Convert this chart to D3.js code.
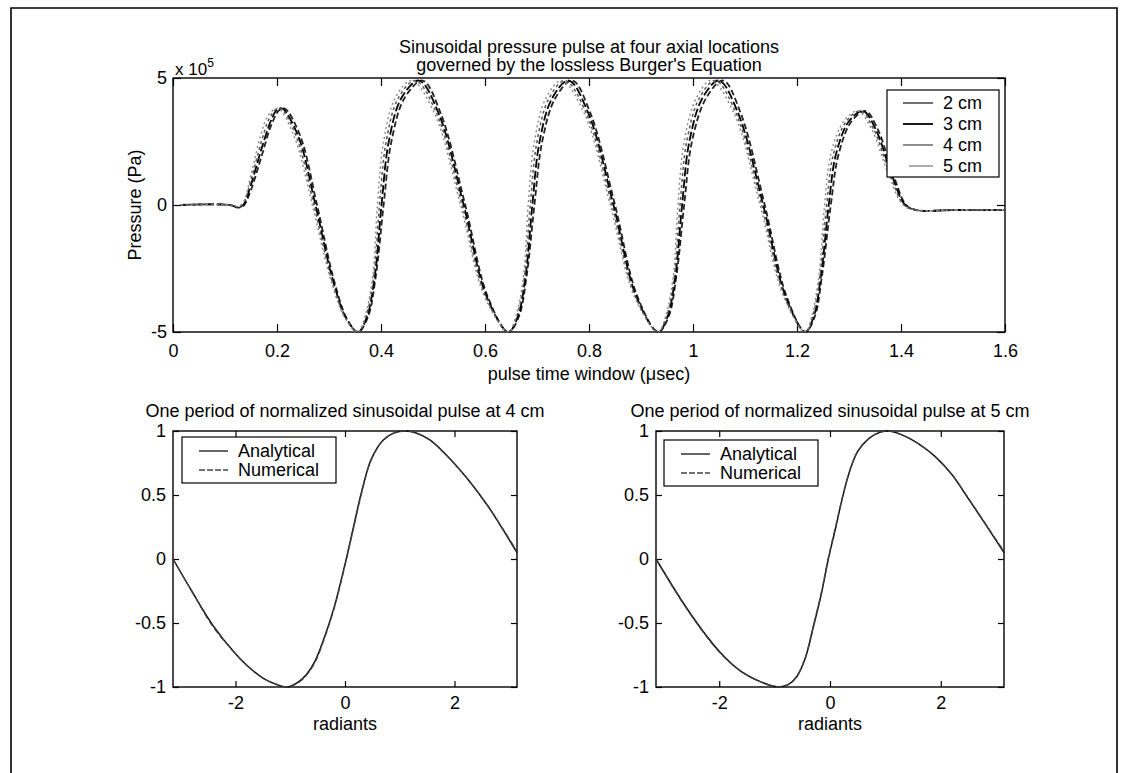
<!DOCTYPE html>
<html>
<head>
<meta charset="utf-8">
<script src="https://cdn.jsdelivr.net/npm/d3@7"></script>
<style>
html,body{margin:0;padding:0;background:#fff;}
svg{display:block;}
text{font-family:"Liberation Sans",Arial,Helvetica,sans-serif;fill:#000;}
</style>
</head>
<body>
<svg id="chart" width="1123" height="773"></svg>
<script>
// ---------------- DATA ----------------
const seriesNames = ["2 cm","3 cm","4 cm","5 cm"];
const xTicksTop = [0,0.2,0.4,0.6,0.8,1,1.2,1.4,1.6];
const yTicksTop = [-5,0,5];
const xTicksBottom = [-2,0,2];
const yTicksBottom = [-1,-0.5,0,0.5,1];
const yTickLabelsBottom = ["-1","-0.5","0","0.5","1"];
const yTickLabelsTop = ["-5","0","5"];

// pressure (x 10^5 Pa) vs time (usec)
const pulse2cm = [[0.015,0],[0.11,0],[0.125,-0.1],[0.135,-0.05],[0.15,0.6],[0.17,1.9],[0.19,3.2],[0.205,3.75],[0.215,3.8],
[0.245,2.7],[0.277,0],[0.31,-3.0],[0.335,-4.5],[0.356,-5.0],
[0.375,-4.4],[0.39,-2.8],[0.405,0],[0.42,2.5],[0.445,4.2],[0.48,4.9],
[0.515,3.6],[0.562,0],[0.605,-3.6],[0.645,-5.0],
[0.665,-4.4],[0.68,-2.8],[0.695,0],[0.71,2.5],[0.735,4.2],[0.768,4.9],
[0.803,3.6],[0.85,0],[0.893,-3.6],[0.933,-5.0],
[0.953,-4.4],[0.968,-2.8],[0.983,0],[0.998,2.5],[1.025,4.2],[1.058,4.9],
[1.092,3.6],[1.138,0],[1.18,-3.6],[1.216,-5.0],
[1.234,-4.4],[1.248,-2.8],[1.265,0],[1.28,2.0],[1.305,3.3],[1.332,3.7],
[1.355,3.0],[1.385,1.2],[1.41,0.0],[1.43,-0.2],[1.5,-0.2],[1.6,-0.2]];
const pulse3cm = [[0.015,0],[0.11,0],[0.125,-0.1],[0.135,0],[0.15,0.8],[0.17,2.2],[0.19,3.4],[0.2,3.75],[0.21,3.8],
[0.241,2.7],[0.274,0],[0.308,-3.0],[0.334,-4.5],[0.356,-5.0],
[0.373,-4.4],[0.388,-2.8],[0.401,0],[0.415,2.5],[0.439,4.2],[0.473,4.9],
[0.511,3.6],[0.559,0],[0.603,-3.6],[0.645,-5.0],
[0.663,-4.4],[0.678,-2.8],[0.691,0],[0.705,2.5],[0.729,4.2],[0.761,4.9],
[0.799,3.6],[0.847,0],[0.891,-3.6],[0.933,-5.0],
[0.951,-4.4],[0.966,-2.8],[0.979,0],[0.993,2.5],[1.018,4.2],[1.05,4.9],
[1.087,3.6],[1.135,0],[1.178,-3.6],[1.216,-5.0],
[1.232,-4.4],[1.246,-2.8],[1.261,0],[1.275,2.0],[1.3,3.3],[1.327,3.7],
[1.351,3.0],[1.382,1.2],[1.408,0.0],[1.43,-0.2],[1.5,-0.2],[1.6,-0.2]];
const pulse4cm = [[0.015,0],[0.11,0],[0.125,-0.08],[0.135,0.05],[0.15,1.0],[0.17,2.5],[0.185,3.4],[0.197,3.75],[0.207,3.8],
[0.237,2.7],[0.271,0],[0.306,-3.0],[0.333,-4.5],[0.356,-5.0],
[0.371,-4.4],[0.386,-2.8],[0.397,0],[0.41,2.5],[0.433,4.2],[0.466,4.9],
[0.507,3.6],[0.556,0],[0.601,-3.6],[0.645,-5.0],
[0.661,-4.4],[0.676,-2.8],[0.687,0],[0.7,2.5],[0.723,4.2],[0.754,4.9],
[0.795,3.6],[0.844,0],[0.889,-3.6],[0.933,-5.0],
[0.949,-4.4],[0.964,-2.8],[0.975,0],[0.988,2.5],[1.012,4.2],[1.043,4.9],
[1.083,3.6],[1.132,0],[1.176,-3.6],[1.216,-5.0],
[1.23,-4.4],[1.244,-2.8],[1.257,0],[1.27,2.0],[1.295,3.3],[1.322,3.7],
[1.347,3.0],[1.379,1.2],[1.406,0.0],[1.43,-0.2],[1.5,-0.2],[1.6,-0.2]];
const pulse5cm = [[0.015,0],[0.11,0],[0.125,-0.05],[0.135,0.1],[0.15,1.2],[0.168,2.7],[0.182,3.5],[0.194,3.75],[0.203,3.8],
[0.233,2.7],[0.268,0],[0.304,-3.0],[0.332,-4.5],[0.356,-5.0],
[0.369,-4.4],[0.384,-2.8],[0.393,0],[0.405,2.5],[0.427,4.2],[0.459,4.9],
[0.503,3.6],[0.553,0],[0.599,-3.6],[0.645,-5.0],
[0.659,-4.4],[0.674,-2.8],[0.683,0],[0.695,2.5],[0.717,4.2],[0.747,4.9],
[0.791,3.6],[0.841,0],[0.887,-3.6],[0.933,-5.0],
[0.947,-4.4],[0.962,-2.8],[0.971,0],[0.983,2.5],[1.006,4.2],[1.035,4.9],
[1.079,3.6],[1.129,0],[1.174,-3.6],[1.216,-5.0],
[1.228,-4.4],[1.242,-2.8],[1.253,0],[1.265,2.0],[1.29,3.3],[1.317,3.7],
[1.343,3.0],[1.376,1.2],[1.404,0.0],[1.43,-0.2],[1.5,-0.2],[1.6,-0.2]];

// one period, normalized (radians, normalized pressure)
const analytic4 = [[-3.1416,0],[-2.8,-0.25],[-2.41,-0.52],[-2.0,-0.74],[-1.77,-0.84],[-1.5,-0.93],[-1.25,-0.98],[-1.05,-1.0],[-0.85,-0.96],[-0.7,-0.9],[-0.55,-0.8],[-0.4,-0.64],[-0.2,-0.38],[0.0,-0.04],[0.15,0.24],[0.3,0.52],[0.48,0.78],[0.7,0.93],[0.9,0.985],[1.1,1.0],[1.3,0.985],[1.55,0.93],[1.81,0.83],[2.21,0.64],[2.6,0.42],[2.9,0.22],[3.1416,0.05]];
const numeric4 = [[-3.1416,0],[-2.8,-0.25],[-2.41,-0.53],[-2.0,-0.74],[-1.77,-0.84],[-1.5,-0.93],[-1.25,-0.98],[-1.05,-1.0],[-0.85,-0.965],[-0.7,-0.905],[-0.55,-0.81],[-0.4,-0.65],[-0.2,-0.39],[0.0,-0.05],[0.15,0.23],[0.3,0.51],[0.48,0.775],[0.7,0.93],[0.9,0.985],[1.1,1.0],[1.3,0.985],[1.55,0.93],[1.81,0.83],[2.21,0.64],[2.6,0.42],[2.9,0.225],[3.1416,0.06]];
const analytic5 = [[-3.1416,0],[-2.67,-0.33],[-2.3,-0.56],[-1.96,-0.74],[-1.6,-0.88],[-1.25,-0.96],[-0.93,-1.0],[-0.75,-0.98],[-0.6,-0.92],[-0.45,-0.78],[-0.3,-0.53],[-0.15,-0.26],[-0.03,0.0],[0.1,0.24],[0.22,0.47],[0.35,0.68],[0.5,0.84],[0.7,0.94],[0.9,0.99],[1.05,1.0],[1.3,0.97],[1.6,0.9],[1.9,0.8],[2.2,0.66],[2.5,0.47],[2.67,0.36],[2.9,0.21],[3.1416,0.05]];
const numeric5 = [[-3.1416,0],[-2.67,-0.335],[-2.3,-0.565],[-1.96,-0.745],[-1.6,-0.88],[-1.25,-0.96],[-0.93,-1.0],[-0.75,-0.98],[-0.6,-0.915],[-0.45,-0.775],[-0.3,-0.52],[-0.15,-0.25],[-0.03,0.01],[0.1,0.25],[0.22,0.475],[0.35,0.68],[0.5,0.84],[0.7,0.94],[0.9,0.99],[1.05,1.0],[1.3,0.97],[1.6,0.9],[1.9,0.8],[2.2,0.66],[2.5,0.475],[2.67,0.365],[2.9,0.215],[3.1416,0.06]];

// ---------------- DRAW ----------------
const svg = d3.select("#chart");
const FS = 18;

// page frame
svg.append("path").attr("d","M11,776 L11,8 L1117,8 L1117,776")
  .attr("fill","none").attr("stroke","#000").attr("stroke-width",1.6);

function panel(box, xDom, yDom, xT, yT, xFmt, yFmt, tick, padX, padY){
  const g = svg.append("g");
  const x = d3.scaleLinear().domain(xDom).range([box.x0, box.x1]);
  const y = d3.scaleLinear().domain(yDom).range([box.y1, box.y0]);
  const ax = (a)=>{ a.selectAll(".domain").remove(); a.selectAll("line").attr("stroke","#000").attr("stroke-width",1.2);
    a.selectAll("text").style("font-size",FS+"px").attr("fill","#000").style("font-family","Liberation Sans, Arial, sans-serif"); };
  g.append("g").attr("transform",`translate(0,${box.y1})`)
    .call(d3.axisBottom(x).tickValues(xT).tickFormat(xFmt).tickSize(-tick).tickSizeOuter(0).tickPadding(padX)).call(ax);
  g.append("g").attr("transform",`translate(0,${box.y0})`)
    .call(d3.axisTop(x).tickValues(xT).tickFormat("").tickSize(-tick).tickSizeOuter(0)).call(ax);
  g.append("g").attr("transform",`translate(${box.x0},0)`)
    .call(d3.axisLeft(y).tickValues(yT).tickFormat(yFmt).tickSize(-tick).tickSizeOuter(0).tickPadding(padY)).call(ax);
  g.append("g").attr("transform",`translate(${box.x1},0)`)
    .call(d3.axisRight(y).tickValues(yT).tickFormat("").tickSize(-tick).tickSizeOuter(0)).call(ax);
  g.append("rect").attr("x",box.x0).attr("y",box.y0).attr("width",box.x1-box.x0).attr("height",box.y1-box.y0)
    .attr("fill","none").attr("stroke","#000").attr("stroke-width",1.4);
  return {g,x,y};
}

// ----- top panel -----
const topBox = {x0:173,x1:1005,y0:78,y1:332};
const T = panel(topBox,[0,1.6],[-5,5],xTicksTop,yTicksTop,d=>String(d),d=>yTickLabelsTop[yTicksTop.indexOf(d)],8,12,6);
const lineTop = d3.line().x(d=>T.x(d[0])).y(d=>T.y(d[1])).curve(d3.curveCatmullRom.alpha(0.5));
const topSeries = [pulse2cm,pulse3cm,pulse4cm,pulse5cm];
const topStroke = ["#222","#000","#555","#888"];
const topWidth = [1.8,1.8,1.5,1.4];
const topDash = ["6,3","9,3","3,3","2,3"];
topSeries.forEach((s,i)=>{
  T.g.append("path").attr("d",lineTop(s)).attr("fill","none")
    .attr("stroke",topStroke[i]).attr("stroke-width",topWidth[i]).attr("stroke-dasharray",topDash[i]);
});
// legend
const lg = svg.append("g");
lg.append("rect").attr("x",887).attr("y",90).attr("width",112).attr("height",87)
  .attr("fill","#fff").attr("stroke","#000").attr("stroke-width",1.2);
const legStroke = ["#222","#000","#444","#777"];
const legWidth = [1.3,1.8,1.2,1.2];
seriesNames.forEach((n,i)=>{
  const yy = 103 + i*21;
  lg.append("line").attr("x1", i===3?909:903).attr("x2",933).attr("y1",yy).attr("y2",yy)
    .attr("stroke",legStroke[i]).attr("stroke-width",legWidth[i]);
  lg.append("text").attr("x",943).attr("y",yy).attr("dy","0.35em").style("font-size",FS+"px").text(n);
});
// titles & labels
svg.append("text").attr("x",589).attr("y",53).attr("text-anchor","middle").style("font-size",FS+"px")
  .text("Sinusoidal pressure pulse at four axial locations");
svg.append("text").attr("x",589).attr("y",71).attr("text-anchor","middle").style("font-size",FS+"px")
  .text("governed by the lossless Burger's Equation");
const ex = svg.append("text").attr("x",175).attr("y",75).style("font-size","17px");
ex.append("tspan").text("x 10");
ex.append("tspan").attr("dy",-8).style("font-size","12px").text("5");
svg.append("text").attr("x",589).attr("y",380).attr("text-anchor","middle").style("font-size",FS+"px")
  .text("pulse time window (\u03bcsec)");
svg.append("text").attr("transform","translate(141,205) rotate(-90)").attr("text-anchor","middle").style("font-size",FS+"px")
  .text("Pressure (Pa)");

// ----- bottom panels -----
function bottom(box, an, nu, title, legBox){
  const P = panel(box,[-Math.PI,Math.PI],[-1,1],xTicksBottom,yTicksBottom,d=>String(d),
    d=>yTickLabelsBottom[yTicksBottom.indexOf(d)],6,9,7);
  const ln = d3.line().x(d=>P.x(d[0])).y(d=>P.y(d[1])).curve(d3.curveCatmullRom.alpha(0.5));
  P.g.append("path").attr("d",ln(an)).attr("fill","none").attr("stroke","#111").attr("stroke-width",1.5);
  P.g.append("path").attr("d",ln(nu)).attr("fill","none").attr("stroke","#444").attr("stroke-width",1.3).attr("stroke-dasharray","6,3");
  const cx = (box.x0+box.x1)/2;
  svg.append("text").attr("x",cx).attr("y",417).attr("text-anchor","middle").style("font-size",FS+"px").text(title);
  svg.append("text").attr("x",cx).attr("y",730).attr("text-anchor","middle").style("font-size",FS+"px").text("radiants");
  const l = svg.append("g");
  l.append("rect").attr("x",legBox.x).attr("y",legBox.y).attr("width",154).attr("height",46)
    .attr("fill","#fff").attr("stroke","#000").attr("stroke-width",1.2);
  const names = ["Analytical","Numerical"];
  names.forEach((n,i)=>{
    const yy = legBox.y + 14 + i*19;
    l.append("line").attr("x1",legBox.x+17).attr("x2",legBox.x+46).attr("y1",yy).attr("y2",yy)
      .attr("stroke", i===0?"#111":"#444").attr("stroke-width",1.3).attr("stroke-dasharray", i===0?null:"6,2");
    l.append("text").attr("x",legBox.x+56).attr("y",yy).attr("dy","0.35em").style("font-size",FS+"px").text(n);
  });
}
bottom({x0:173,x1:517,y0:431,y1:687}, analytic4, numeric4, "One period of normalized sinusoidal pulse at 4 cm", {x:182,y:437});
bottom({x0:656,x1:1004,y0:431,y1:687}, analytic5, numeric5, "One period of normalized sinusoidal pulse at 5 cm", {x:664,y:440});
</script>
</body>
</html>
